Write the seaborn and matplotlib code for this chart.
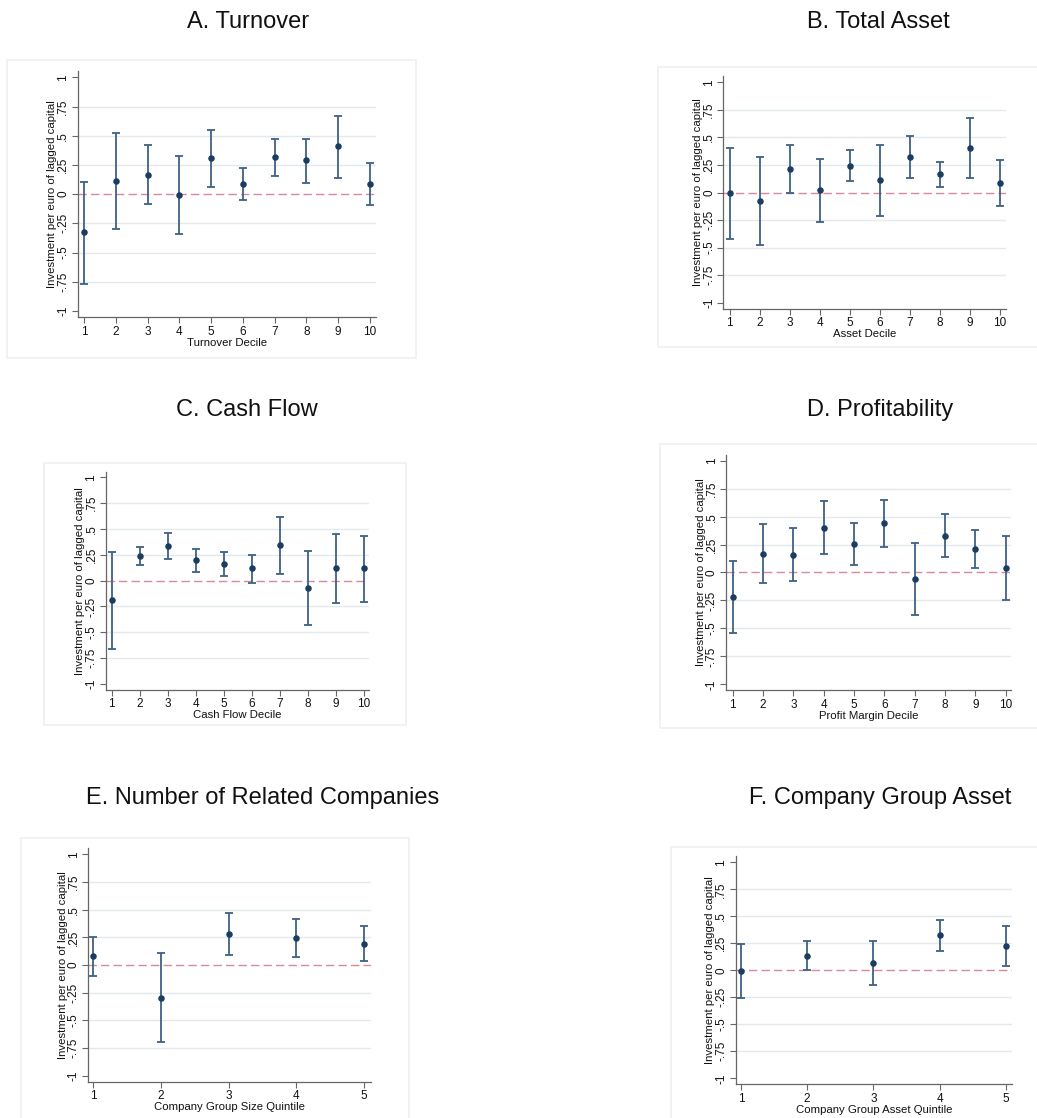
import matplotlib
matplotlib.use("Agg")
import matplotlib.pyplot as plt
import seaborn as sns
import pandas as pd
from matplotlib.patches import Rectangle

# --- data: point estimate, lower and upper CI bound ---
deciles = list(range(1, 11))
quintiles = list(range(1, 6))

turnover_est = [-0.328, 0.111, 0.168, -0.006, 0.311, 0.088, 0.320, 0.288, 0.408, 0.088]
turnover_lo = [-0.770, -0.300, -0.083, -0.337, 0.060, -0.054, 0.157, 0.094, 0.140, -0.094]
turnover_hi = [0.108, 0.522, 0.419, 0.325, 0.553, 0.228, 0.476, 0.474, 0.673, 0.265]

asset_est = [-0.008, -0.074, 0.216, 0.023, 0.244, 0.110, 0.322, 0.165, 0.401, 0.089]
asset_lo = [-0.422, -0.477, -0.005, -0.271, 0.101, -0.213, 0.129, 0.047, 0.129, -0.120]
asset_hi = [0.401, 0.325, 0.434, 0.304, 0.386, 0.434, 0.513, 0.280, 0.673, 0.298]

cash_est = [-0.187, 0.235, 0.335, 0.197, 0.165, 0.119, 0.345, -0.068, 0.123, 0.119]
cash_lo = [-0.658, 0.148, 0.210, 0.081, 0.042, -0.019, 0.068, -0.429, -0.216, -0.206]
cash_hi = [0.274, 0.323, 0.458, 0.310, 0.281, 0.252, 0.616, 0.290, 0.455, 0.435]

profit_est = [-0.219, 0.168, 0.159, 0.398, 0.258, 0.440, -0.058, 0.329, 0.210, 0.043]
profit_lo = [-0.538, -0.097, -0.079, 0.162, 0.067, 0.231, -0.380, 0.136, 0.043, -0.243]
profit_hi = [0.106, 0.431, 0.401, 0.636, 0.440, 0.645, 0.267, 0.523, 0.380, 0.329]

related_est = [0.078, -0.295, 0.280, 0.244, 0.193]
related_lo = [-0.099, -0.699, 0.093, 0.069, 0.036]
related_hi = [0.256, 0.111, 0.467, 0.413, 0.349]

group_est = [-0.006, 0.136, 0.071, 0.324, 0.225]
group_lo = [-0.259, 0.003, -0.133, 0.182, 0.037]
group_hi = [0.247, 0.269, 0.275, 0.463, 0.410]

titles = ["A. Turnover", "B. Total Asset", "C. Cash Flow", "D. Profitability",
          "E. Number of Related Companies", "F. Company Group Asset"]
xlabels = ["Turnover Decile", "Asset Decile", "Cash Flow Decile", "Profit Margin Decile",
           "Company Group Size Quintile", "Company Group Asset Quintile"]
ylabel = "Investment per euro of lagged capital"
yticks = [1, 0.75, 0.5, 0.25, 0, -0.25, -0.5, -0.75, -1]
ytick_labels = ["1", ".75", ".5", ".25", "0", "-.25", "-.5", "-.75", "-1"]

series = [
    (deciles, turnover_est, turnover_lo, turnover_hi),
    (deciles, asset_est, asset_lo, asset_hi),
    (deciles, cash_est, cash_lo, cash_hi),
    (deciles, profit_est, profit_lo, profit_hi),
    (quintiles, related_est, related_lo, related_hi),
    (quintiles, group_est, group_lo, group_hi),
]

# --- layout in pixels (the panels are pasted unevenly in the original) ---
W, H = 1037, 1118
# x of first tick, x of last tick, y of +1, y of -1
anchors = [
    (84.3, 369.7, 77.3, 311.0),
    (729.7, 1000.0, 82.3, 302.7),
    (111.7, 364.0, 477.3, 684.0),
    (732.7, 1005.7, 460.7, 684.3),
    (93.3, 364.0, 854.3, 1075.7),
    (741.0, 1005.7, 862.3, 1078.3),
]
frames = [
    (7, 60, 416, 358),
    (658, 67, 1045, 347),
    (44, 463, 406, 725),
    (660, 444, 1045, 728),
    (21, 838, 409, 1125),
    (671, 847, 1045, 1125),
]
title_pos = [(248, 22), (878, 22), (247, 410), (880, 410), (263, 798), (880, 798)]

YLIM = (-1.055, 1.055)
XLIM_DEC = (0.79, 10.19)
XLIM_QUI = (0.92, 5.10)

DOT = "#1b3d60"
BAR = "#3f6185"
GRID = "#e3eaee"
ZERO = "#d8899b"
SPINE = "#666666"

sns.set_theme(style="white")
plt.rcParams["font.family"] = ["Liberation Sans", "DejaVu Sans"]

fig = plt.figure(figsize=(W / 100, H / 100), dpi=100)

for i in range(6):
    x, est, lo, hi = series[i]
    fx0, fy0, fx1, fy1 = frames[i]
    fig.patches.append(Rectangle((fx0 / W, 1 - fy1 / H), (fx1 - fx0) / W, (fy1 - fy0) / H,
                                 transform=fig.transFigure, fill=False,
                                 edgecolor="#edf1f3", linewidth=1.2))
    tx, ty = title_pos[i]
    fig.text(tx / W, 1 - ty / H, titles[i], ha="center", va="center", fontsize=17, color="#111111")

    xlim = XLIM_DEC if len(x) == 10 else XLIM_QUI
    x1p, xnp, ytp, ybp = anchors[i]
    n = len(x)
    sx = (xnp - x1p) / (n - 1)
    left = x1p - (1 - xlim[0]) * sx
    right = xnp + (xlim[1] - n) * sx
    sy = (ybp - ytp) / 2
    top = ytp - (YLIM[1] - 1) * sy
    bottom = ybp + (-1 - YLIM[0]) * sy
    ax = fig.add_axes([left / W, 1 - bottom / H, (right - left) / W, (bottom - top) / H])

    df = pd.DataFrame({"x": x, "est": est, "lo": lo, "hi": hi})
    for g in [0.75, 0.5, 0.25, -0.25, -0.5, -0.75]:
        ax.axhline(g, color=GRID, linewidth=1.0, zorder=0)
    ax.axhline(0, color=ZERO, linewidth=1.0, linestyle=(0, (6, 3)), zorder=1)
    ax.errorbar(df["x"], df["est"], yerr=[df["est"] - df["lo"], df["hi"] - df["est"]],
                fmt="none", ecolor=BAR, elinewidth=1.3, capsize=3, capthick=1.3, zorder=2)
    sns.scatterplot(data=df, x="x", y="est", ax=ax, color=DOT, s=22, edgecolor=DOT,
                    linewidth=0, zorder=3)

    ax.set_xlim(*xlim)
    ax.set_ylim(*YLIM)
    ax.set_xticks(x)
    ax.set_xticklabels([str(v) for v in x], fontsize=8.5)
    ax.set_yticks(yticks)
    ax.set_yticklabels(ytick_labels, fontsize=8.5, rotation=90, va="center")
    ax.tick_params(axis="both", direction="out", length=4, width=0.8, color=SPINE,
                   pad=2, labelcolor="#111111", left=True, bottom=True)
    ax.set_xlabel(xlabels[i], fontsize=8.2, labelpad=0, color="#111111")
    ax.set_ylabel(ylabel, fontsize=8.2, labelpad=0, color="#111111")
    for s in ["top", "right"]:
        ax.spines[s].set_visible(False)
    for s in ["left", "bottom"]:
        ax.spines[s].set_color(SPINE)
        ax.spines[s].set_linewidth(0.9)
    ax.set_facecolor("none")
    ax.grid(False)

fig.savefig("out.png", dpi=100)
